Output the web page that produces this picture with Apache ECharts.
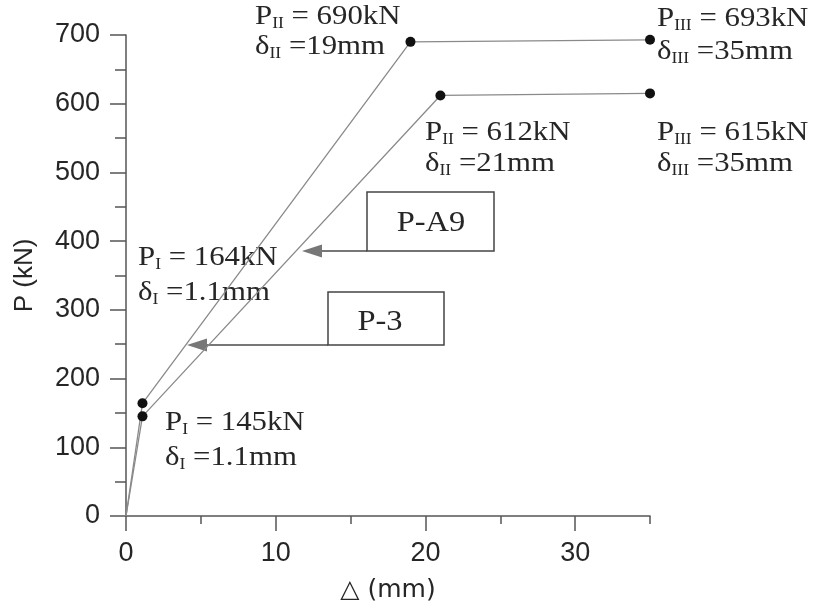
<!DOCTYPE html>
<html>
<head>
<meta charset="utf-8">
<title>Load–deflection curves P-A9 and P-3</title>
<script src="https://cdn.jsdelivr.net/npm/echarts@6/dist/echarts.min.js"></script>
<style>
  html, body { margin: 0; padding: 0; background: #fff; }
  #chart { width: 817px; height: 608px; }
</style>
</head>
<body>
<div id="chart"></div>
<script>
// Trilinear load–deflection curves (Δ in mm, P in kN)
const deltaA9 = [0, 1.1, 19, 35];
const loadA9  = [0, 164, 690, 693];
const deltaP3 = [0, 1.1, 21, 35];
const loadP3  = [0, 145, 612, 615];

const xTickLabels = [0, 10, 20, 30];
const yTickLabels = [0, 100, 200, 300, 400, 500, 600, 700];

const AXIS_COLOR = '#555';
const TEXT_COLOR = '#262626';
const CURVE_COLOR = '#8a8a8a';
const SERIF = '"Liberation Serif", "DejaVu Serif", serif';
const SANS = '"Liberation Sans", Arial, sans-serif';

function pairs(xs, ys) {
  // the origin is drawn without a marker; the three stage points get dots
  return xs.map((x, i) => i === 0
    ? { value: [x, ys[i]], symbol: 'none' }
    : { value: [x, ys[i]] });
}

// one line of annotation text with a roman-numeral subscript
function stageText(x, y, sym, sub, rest) {
  return {
    type: 'text',
    x: x, y: y,
    scaleX: 1.1,
    silent: true,
    style: {
      text: '{m|' + sym + '}{s|' + sub + '}{m|' + rest + '}',
      align: 'left', verticalAlign: 'middle',
      rich: {
        m: { fontFamily: SERIF, fontSize: 28, lineHeight: 30, fill: TEXT_COLOR, verticalAlign: 'middle' },
        s: { fontFamily: SERIF, fontSize: 16, lineHeight: 30, fill: TEXT_COLOR, verticalAlign: 'bottom' }
      }
    }
  };
}

function stageBlock(x, y1, y2, stage, load, delta) {
  return [
    stageText(x, y1, 'P', stage, ' = ' + load + 'kN'),
    stageText(x, y2, 'δ', stage, ' =' + delta + 'mm')
  ];
}

function tagBox(x, y, w, h, label, tx, ty) {
  return [
    { type: 'rect', shape: { x: x, y: y, width: w, height: h }, silent: true,
      style: { fill: '#fff', stroke: '#444', lineWidth: 1.5 } },
    { type: 'text', x: tx, y: ty, scaleX: 1.12, silent: true,
      style: { text: label, font: '29px ' + SERIF, fill: TEXT_COLOR,
               align: 'center', verticalAlign: 'middle' } }
  ];
}

function arrowLeft(x0, x1, y) {
  // shaft from x0 leftwards, solid head ending at x1
  return [
    { type: 'line', silent: true, shape: { x1: x0, y1: y, x2: x1 + 16, y2: y },
      style: { stroke: '#777', lineWidth: 2 } },
    { type: 'polygon', silent: true,
      shape: { points: [[x1, y], [x1 + 20, y - 6.5], [x1 + 20, y + 6.5]] },
      style: { fill: '#777' } }
  ];
}

const chart = echarts.init(document.getElementById('chart'), null, { renderer: 'canvas' });

const axisLineStyle = { color: AXIS_COLOR, width: 1.5 };

chart.setOption({
  animation: false,
  backgroundColor: '#fff',
  grid: { left: 126, right: 167, top: 35, bottom: 88 },
  xAxis: [
    {
      type: 'value', min: 0, max: 35, interval: 5, position: 'bottom',
      axisLine: { show: true, lineStyle: axisLineStyle },
      axisTick: { show: true, length: 8, lineStyle: axisLineStyle },
      axisLabel: { show: false },
      splitLine: { show: false }
    },
    {
      type: 'value', min: 0, max: 35, interval: 10, position: 'bottom',
      axisLine: { show: false },
      axisTick: { show: true, length: 15, customValues: xTickLabels, lineStyle: axisLineStyle },
      axisLabel: { show: true, customValues: xTickLabels, margin: 24,
                   fontFamily: SANS, fontSize: 27, color: TEXT_COLOR },
      splitLine: { show: false },
      name: '△ (mm)', nameLocation: 'middle', nameGap: 62,
      nameTextStyle: { fontFamily: '"DejaVu Sans", ' + SANS, fontSize: 25, color: TEXT_COLOR }
    }
  ],
  yAxis: [
    {
      type: 'value', min: 0, max: 700, interval: 50, position: 'left',
      axisLine: { show: true, lineStyle: axisLineStyle },
      axisTick: { show: true, length: 11, lineStyle: axisLineStyle },
      axisLabel: { show: false },
      splitLine: { show: false }
    },
    {
      type: 'value', min: 0, max: 700, interval: 100, position: 'left',
      axisLine: { show: false },
      axisTick: { show: true, length: 16, customValues: yTickLabels, lineStyle: axisLineStyle },
      axisLabel: { show: true, customValues: yTickLabels, margin: 26,
                   fontFamily: SANS, fontSize: 27, color: TEXT_COLOR },
      splitLine: { show: false },
      name: 'P (kN)', nameLocation: 'middle', nameGap: 88, nameRotate: 90,
      nameTextStyle: { fontFamily: SANS, fontSize: 26, color: TEXT_COLOR }
    }
  ],
  series: [
    {
      name: 'P-A9', type: 'line', xAxisIndex: 0, yAxisIndex: 0,
      data: pairs(deltaA9, loadA9),
      symbol: 'circle', symbolSize: 10, showSymbol: true,
      lineStyle: { color: CURVE_COLOR, width: 1.3 },
      itemStyle: { color: '#111' },
      z: 3
    },
    {
      name: 'P-3', type: 'line', xAxisIndex: 0, yAxisIndex: 0,
      data: pairs(deltaP3, loadP3),
      symbol: 'circle', symbolSize: 10, showSymbol: true,
      lineStyle: { color: CURVE_COLOR, width: 1.3 },
      itemStyle: { color: '#111' },
      z: 3
    }
  ],
  graphic: [].concat(
    stageBlock(255, 17, 47, 'II', loadA9[2], deltaA9[2]),
    stageBlock(657, 19, 52, 'III', loadA9[3], deltaA9[3]),
    stageBlock(425, 133, 164, 'II', loadP3[2], deltaP3[2]),
    stageBlock(657, 133, 164, 'III', loadP3[3], deltaP3[3]),
    stageBlock(138, 258, 293, 'I', loadA9[1], deltaA9[1]),
    stageBlock(165, 423, 458, 'I', loadP3[1], deltaP3[1]),
    arrowLeft(367, 302, 251),
    arrowLeft(328, 187, 345),
    tagBox(367, 192, 127, 59, 'P-A9', 431, 223),
    tagBox(328, 292, 116, 53, 'P-3', 380, 322)
  )
});
</script>
</body>
</html>
